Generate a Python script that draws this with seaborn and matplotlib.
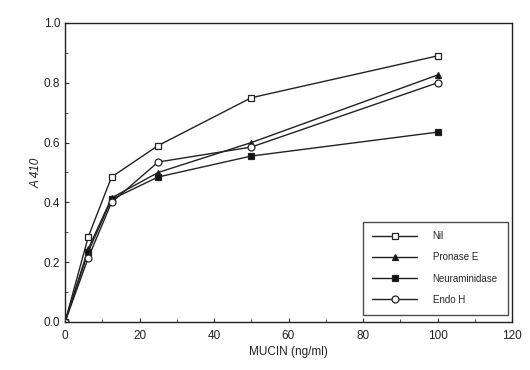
import matplotlib
matplotlib.use('Agg')
import matplotlib.pyplot as plt
import seaborn as sns
import pandas as pd
from matplotlib.ticker import MultipleLocator

mucin = [0, 6.25, 12.5, 25, 50, 100]
nil = [0.0, 0.285, 0.485, 0.59, 0.75, 0.89]
pronase_e = [0.0, 0.245, 0.415, 0.50, 0.60, 0.826]
neuraminidase = [0.0, 0.235, 0.41, 0.485, 0.555, 0.635]
endo_h = [0.0, 0.215, 0.40, 0.535, 0.585, 0.80]

series_names = ['Nil', 'Pronase E', 'Neuraminidase', 'Endo H']
series_values = [nil, pronase_e, neuraminidase, endo_h]

styles = {
    'Nil': dict(marker='s', mfc='white'),
    'Pronase E': dict(marker='^', mfc='#111111'),
    'Neuraminidase': dict(marker='s', mfc='#111111'),
    'Endo H': dict(marker='o', mfc='white'),
}

sns.set_style('ticks')
plt.rcParams['font.family'] = ['Liberation Sans', 'DejaVu Sans']

fig = plt.figure(figsize=(5.3, 3.7), dpi=100)
ax = fig.add_axes([65 / 530, 48 / 370, 447 / 530, 299 / 370])

for name, vals in zip(series_names, series_values):
    df = pd.DataFrame({'mucin': mucin, 'a410': vals})
    st = styles[name]
    sns.lineplot(data=df, x='mucin', y='a410', ax=ax, color='#222222',
                 linewidth=1.0, marker=st['marker'], markersize=5,
                 markerfacecolor=st['mfc'], markeredgecolor='#222222',
                 markeredgewidth=0.9, label=name)

ax.set_xlim(0, 120)
ax.set_ylim(0, 1.0)
ax.xaxis.set_major_locator(MultipleLocator(20))
ax.xaxis.set_minor_locator(MultipleLocator(10))
ax.yaxis.set_major_locator(MultipleLocator(0.2))
ax.yaxis.set_minor_locator(MultipleLocator(0.1))
ax.yaxis.set_major_formatter(matplotlib.ticker.FormatStrFormatter('%.1f'))
ax.tick_params(which='both', direction='in', colors='#333333', labelcolor='#222222',
               labelsize=8.5)
ax.tick_params(which='major', length=3)
ax.tick_params(which='minor', length=2)
ax.tick_params(axis='x', pad=6)
for s in ax.spines.values():
    s.set_color('#222222')
    s.set_linewidth(1.0)

ax.set_xlabel('MUCIN (ng/ml)', fontsize=8.5, color='#222222', labelpad=3)
ax.set_ylabel('A 410', fontsize=8.5, color='#222222', style='italic', labelpad=1)

leg = ax.legend(loc='lower right', bbox_to_anchor=(0.99, 0.025), fontsize=7,
                frameon=True, fancybox=False, handlelength=4.6, borderpad=1.0,
                labelspacing=1.15, handletextpad=1.6, borderaxespad=0)
leg.get_frame().set_edgecolor('#222222')
leg.get_frame().set_linewidth(1.0)

fig.savefig('out.png', dpi=100)
